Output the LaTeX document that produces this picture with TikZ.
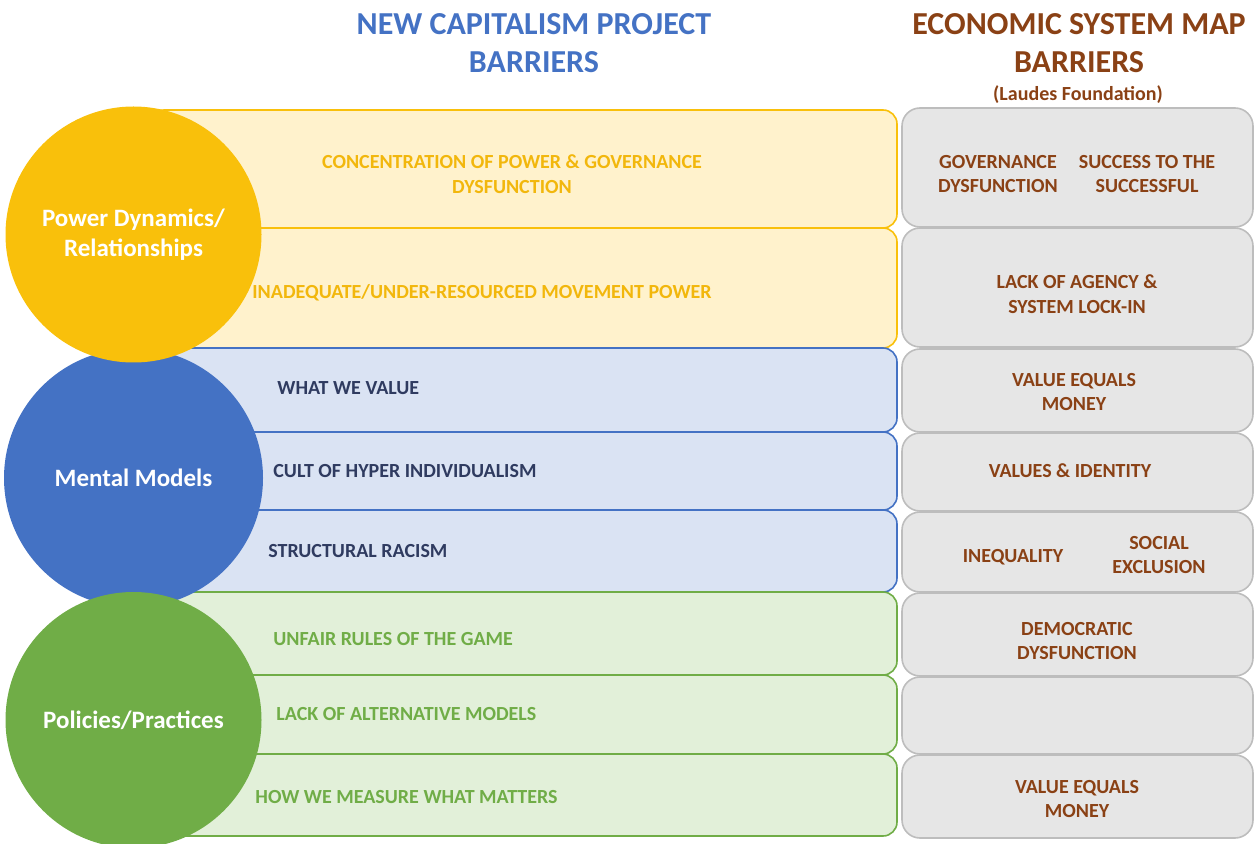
\documentclass[tikz,border=0pt]{standalone}
\usepackage{fontspec}
\setmainfont{Carlito}
\usepackage{tikz}
\usetikzlibrary{positioning}

\definecolor{gold}{HTML}{F9C00B}
\definecolor{goldtext}{HTML}{F2B70C}
\definecolor{goldfill}{HTML}{FFF2CC}
\definecolor{steel}{HTML}{4472C4}
\definecolor{steelfill}{HTML}{DAE3F3}
\definecolor{navy}{HTML}{2F3B60}
\definecolor{leaf}{HTML}{70AD47}
\definecolor{leaffill}{HTML}{E2F0D9}
\definecolor{rust}{HTML}{8A4115}
\definecolor{greyfill}{HTML}{E6E6E6}
\definecolor{greyline}{HTML}{BDBDBD}

\tikzset{
  barrier/.style={font=\bfseries\fontsize{10}{12.3}\selectfont, align=center, inner sep=0pt},
  lever/.style={circle, inner sep=0pt, minimum size=128pt, text=white, align=center,
    font=\bfseries\fontsize{12.5}{15}\selectfont},
  heading/.style={font=\bfseries\fontsize{16}{19}\selectfont, align=center, inner sep=0pt},
  yband/.style={draw=gold, fill=goldfill, line width=0.8pt, rounded corners=7pt},
  bband/.style={draw=steel, fill=steelfill, line width=0.8pt, rounded corners=7pt},
  gband/.style={draw=leaf, fill=leaffill, line width=0.8pt, rounded corners=7pt},
  esmbox/.style={draw=greyline, fill=greyfill, line width=0.8pt, rounded corners=9pt}
}

\begin{document}
\begin{tikzpicture}[x=0.5pt,y=-0.5pt]
		\useasboundingbox (0,0) rectangle (1257,844);
		% the headings
		\node[heading, text=steel] (ncp) at (534,43) {NEW CAPITALISM PROJECT\\BARRIERS};
		\node[heading, text=rust] (esm) at (1079,43) {ECONOMIC SYSTEM MAP\\BARRIERS};
		\node[barrier, text=rust] (laudes) at (1078,95) {(Laudes Foundation)};
		% the left rows
		\draw[yband] (150,110) rectangle (897,228);
		\draw[yband] (150,228) rectangle (897,348);
		\draw[bband] (150,348) rectangle (897,432);
		\draw[bband] (150,432) rectangle (897,510);
		\draw[bband] (150,510) rectangle (897,592);
		\draw[gband] (150,592) rectangle (897,675);
		\draw[gband] (150,675) rectangle (897,754);
		\draw[gband] (150,754) rectangle (897,836);
		% the right boxes
		\draw[esmbox] (902,108) rectangle (1253,227);
		\draw[esmbox] (902,228) rectangle (1253,347);
		\draw[esmbox] (902,349) rectangle (1253,432);
		\draw[esmbox] (902,433) rectangle (1253,511);
		\draw[esmbox] (902,512) rectangle (1253,592);
		\draw[esmbox] (902,593) rectangle (1253,676);
		\draw[esmbox] (902,677) rectangle (1253,754);
		\draw[esmbox] (902,755) rectangle (1253,838);
		% the circles
		\node[lever, fill=steel, minimum size=129.5pt] (mm) at (133.5,478) {Mental Models};
		\node[lever, fill=gold] (pd) at (133.5,234.5) {Power Dynamics/\\Relationships};
		\node[lever, fill=leaf] (pp) at (133.5,720) {Policies/Practices};
		%% the labels
		\node[barrier, text=goldtext] (conc) at (512,174) {CONCENTRATION OF POWER \& GOVERNANCE\\DYSFUNCTION};
		\node[barrier, text=goldtext] (inad) at (482,293) {INADEQUATE/UNDER-RESOURCED MOVEMENT POWER};
		\node[barrier, text=navy, anchor=west] (wwv) at (277,388) {WHAT WE VALUE};
		\node[barrier, text=navy, anchor=west] (cult) at (273,471) {CULT OF HYPER INDIVIDUALISM};
		\node[barrier, text=navy, anchor=west] (race) at (268,551) {STRUCTURAL RACISM};
		\node[barrier, text=leaf, anchor=west] (rules) at (273,639) {UNFAIR RULES OF THE GAME};
		\node[barrier, text=leaf, anchor=west] (alt) at (276,714) {LACK OF ALTERNATIVE MODELS};
		\node[barrier, text=leaf, anchor=west] (meas) at (255,797) {HOW WE MEASURE WHAT MATTERS};
		\node[barrier, text=rust] (gov) at (998,174) {GOVERNANCE\\DYSFUNCTION};
		\node[barrier, text=rust] (succ) at (1147,174) {SUCCESS TO THE\\SUCCESSFUL};
		\node[barrier, text=rust] (agency) at (1077,294) {LACK OF AGENCY \&\\SYSTEM LOCK-IN};
		\node[barrier, text=rust] (money) at (1074,392) {VALUE EQUALS\\MONEY};
		\node[barrier, text=rust] (ident) at (1070,471) {VALUES \& IDENTITY};
		\node[barrier, text=rust] (ineq) at (1013,557) {INEQUALITY};
		\node[barrier, text=rust] (excl) at (1159,555) {SOCIAL\\EXCLUSION};
		\node[barrier, text=rust] (demo) at (1077,641) {DEMOCRATIC\\DYSFUNCTION};
		\node[barrier, text=rust] (money2) at (1077,799) {VALUE EQUALS\\MONEY};
\end{tikzpicture}
\end{document}
